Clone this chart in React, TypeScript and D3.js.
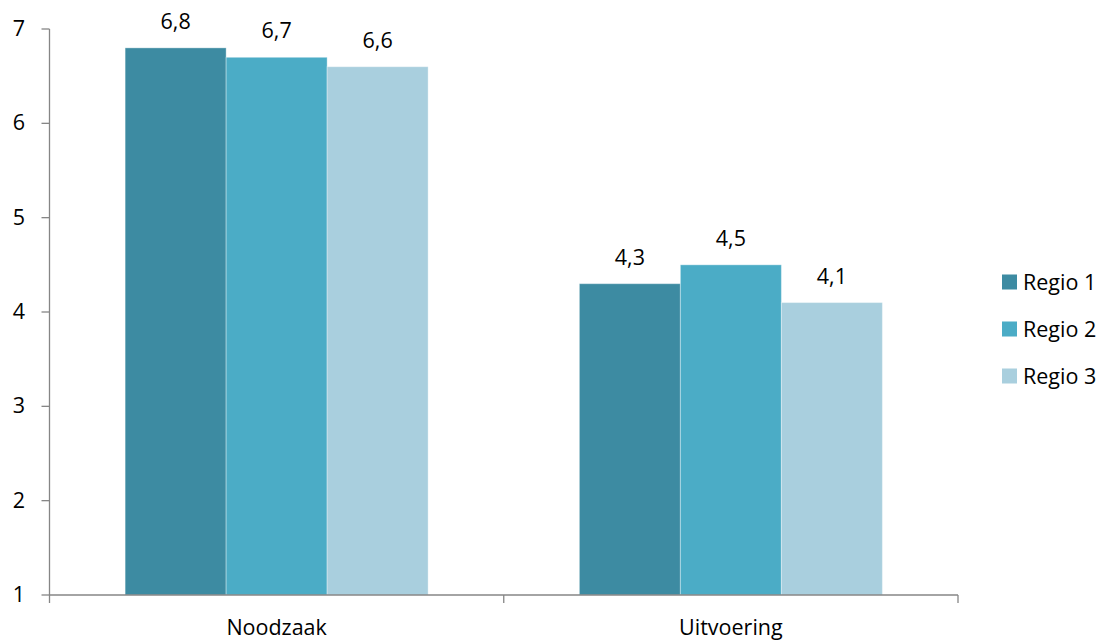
import React from "react";
import * as d3 from "d3";

const categories = ["Noodzaak", "Uitvoering"];
const seriesNames = ["Regio 1", "Regio 2", "Regio 3"];
const regio1 = [6.8, 4.3];
const regio2 = [6.7, 4.5];
const regio3 = [6.6, 4.1];
const yTicks = [1, 2, 3, 4, 5, 6, 7];
const colors = ["#3D8BA2", "#4BACC6", "#A9CFDE"];

const fmt = (v: number) => v.toFixed(1).replace(".", ",");

export default function App() {
  const W = 1112, H = 640;
  const left = 49.5, right = 958, top = 29, bottom = 595;
  const font = "'Open Sans', sans-serif";
  const fs = 21.5;
  const x0 = d3.scaleBand<string>().domain(categories).range([left, right]).paddingInner(0.333).paddingOuter(0.1665);
  const x1 = d3.scaleBand<string>().domain(seriesNames).range([0, x0.bandwidth()]);
  const y = d3.scaleLinear().domain([1, 7]).range([bottom, top]);
  const series = [regio1, regio2, regio3];
  const axisColor = "#868686";
  const catEdges = [left, left + (right - left) / 2, right];

  return (
    <div style={{ position: "absolute", left: 0, top: 0 }}>
      <svg width={W} height={H} style={{ display: "block", background: "#fff" }}>
        {categories.map((c, ci) =>
          series.map((s, si) => (
            <rect
              key={c + si}
              x={(x0(c) ?? 0) + (x1(seriesNames[si]) ?? 0)}
              y={y(s[ci])}
              width={x1.bandwidth()}
              height={y(1) - y(s[ci])}
              fill={colors[si]}
              stroke="#ffffff"
              strokeOpacity={0.35}
              strokeWidth={1}
            />
          ))
        )}
        {categories.map((c, ci) =>
          series.map((s, si) => (
            <text
              key={"l" + c + si}
              x={(x0(c) ?? 0) + (x1(seriesNames[si]) ?? 0) + x1.bandwidth() / 2}
              y={y(s[ci]) - 19}
              textAnchor="middle"
              fontFamily={font}
              fontSize={fs}
              fill="#000"
            >
              {fmt(s[ci])}
            </text>
          ))
        )}
        {/* y axis */}
        <line x1={left} x2={left} y1={top} y2={bottom} stroke={axisColor} strokeWidth={1.3} />
        {yTicks.map((t) => (
          <g key={"yt" + t}>
            <line x1={left - 8} x2={left} y1={y(t)} y2={y(t)} stroke={axisColor} strokeWidth={1.3} />
            <text x={25} y={y(t)} dy="0.33em" textAnchor="end" fontFamily={font} fontSize={fs} fill="#000">
              {t}
            </text>
          </g>
        ))}
        {/* x axis */}
        <line x1={left} x2={right} y1={bottom} y2={bottom} stroke={axisColor} strokeWidth={1.3} />
        {catEdges.map((e, i) => (
          <line key={"xt" + i} x1={e} x2={e} y1={bottom} y2={bottom + 8} stroke={axisColor} strokeWidth={1.3} />
        ))}
        {categories.map((c) => (
          <text
            key={"c" + c}
            x={(x0(c) ?? 0) + x0.bandwidth() / 2}
            y={635}
            textAnchor="middle"
            fontFamily={font}
            fontSize={fs}
            fill="#000"
          >
            {c}
          </text>
        ))}
        {/* legend */}
        {seriesNames.map((n, i) => (
          <g key={"lg" + n} transform={`translate(1002, ${282 + i * 47})`}>
            <rect x={0} y={-7.5} width={15} height={15} fill={colors[i]} />
            <text x={21} y={0} dy="0.35em" fontFamily={font} fontSize={fs} fill="#000">
              {n}
            </text>
          </g>
        ))}
      </svg>
    </div>
  );
}
